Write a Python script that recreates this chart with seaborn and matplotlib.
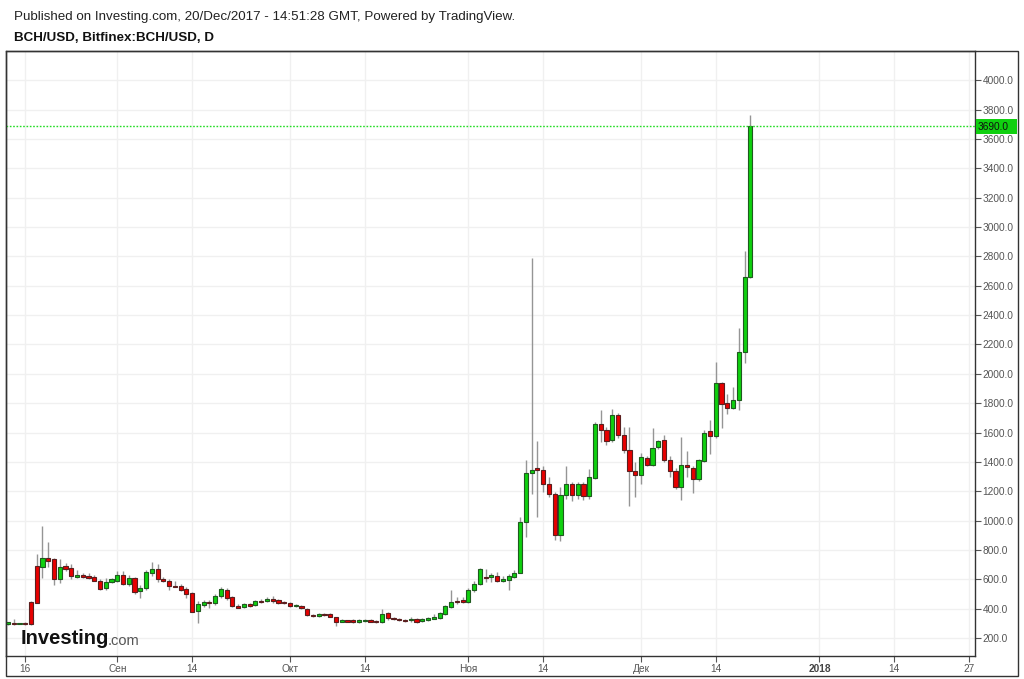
import matplotlib
matplotlib.use("Agg")
import matplotlib.pyplot as plt
import matplotlib.dates as mdates
import matplotlib.patches as mpatches
import numpy as np
import pandas as pd
import seaborn as sns

# ---------------- data ----------------
start_date = "2017-08-13"
opens = [292, 300, 298, 302, 446, 687, 681, 745, 738, 605, 687, 674, 617, 630, 624, 615, 588, 542, 581,
         588, 626, 567, 608, 517, 540, 644, 667, 603, 585, 556, 553, 532, 503, 385, 426, 446, 435, 485, 528,
         476, 417, 410, 430, 426, 453, 449, 467, 460, 446,
         439, 417, 419, 400, 359, 348, 366, 362, 344, 311, 321, 321, 311, 316, 321, 318, 309, 369, 339, 330,
         323, 319, 328, 316, 321, 330, 339, 362, 412, 453, 462,
         442, 526, 567, 617, 612, 624, 588, 596, 617, 646, 988, 1326, 1360, 1347, 1251, 1182, 904, 1177, 1251,
         1173, 1251, 1165, 1292, 1656, 1615, 1552, 1722, 1583, 1478, 1341,
         1312, 1425, 1382, 1502, 1547, 1415, 1341, 1227, 1380, 1360, 1285, 1408, 1612, 1575, 1939, 1801, 1770,
         1824, 2146, 2663]
highs = [312, 332, 305, 310, 450, 774, 965, 852, 747, 738, 710, 704, 665, 644, 640, 628, 601, 610, 610,
         658, 653, 630, 615, 560, 660, 719, 704, 615, 600, 590, 570, 548, 515, 453, 460, 458, 500, 549, 540,
         483, 430, 440, 435, 462, 468, 476, 487, 467, 455,
         446, 428, 426, 407, 366, 373, 373, 373, 346, 330, 323, 330, 330, 328, 326, 323, 396, 376, 344, 337,
         330, 344, 339, 339, 344, 360, 378, 426, 526, 476, 476,
         540, 590, 680, 667, 640, 650, 619, 635, 662, 1027, 1410, 2790, 1540, 1374, 1300, 1193, 1230, 1369,
         1265, 1265, 1265, 1352, 1671, 1756, 1640, 1763, 1730, 1636, 1636, 1400,
         1460, 1440, 1631, 1550, 1580, 1440, 1360, 1570, 1474, 1370, 1420, 1620, 1687, 2082, 1945, 1865, 1911,
         2310, 2834, 3761]
lows = [290, 288, 296, 285, 290, 435, 610, 681, 560, 574, 658, 601, 610, 610, 600, 585, 528, 530, 574,
        580, 560, 555, 499, 471, 530, 620, 580, 578, 526, 545, 520, 471, 375, 302, 410, 407, 425, 475, 462,
        410, 403, 405, 410, 418, 440, 442, 440, 432, 428,
        410, 412, 396, 348, 346, 346, 350, 340, 282, 306, 307, 305, 303, 312, 306, 303, 303, 321, 325, 318,
        312, 312, 303, 312, 316, 326, 332, 355, 405, 428, 435,
        435, 512, 560, 580, 580, 580, 580, 528, 610, 640, 890, 1182, 1022, 1193, 1160, 868, 860, 1150,
        1136, 1150, 1140, 1150, 1280, 1533, 1512, 1535, 1560, 1460, 1102, 1159,
        1246, 1370, 1375, 1490, 1400, 1300, 1215, 1141, 1300, 1186, 1270, 1400, 1451, 1560, 1633, 1729, 1760,
        1752, 2071, 2655]
closes = [308, 292, 302, 296, 294, 437, 745, 722, 605, 685, 670, 619, 630, 617, 610, 588, 537, 583, 601,
          628, 567, 608, 512, 540, 649, 667, 603, 585, 553, 550, 530, 499, 380, 430, 448, 439, 489, 535, 471,
          417, 407, 432, 417, 453, 446, 467, 453, 439, 435,
          417, 424, 403, 355, 350, 366, 355, 344, 311, 323, 311, 311, 323, 325, 311, 309, 362, 335, 328, 320,
          316, 328, 307, 328, 335, 346, 371, 417, 448, 442, 448,
          526, 567, 667, 608, 626, 585, 601, 619, 644, 993, 1326, 1347, 1344, 1251, 1182, 902, 1177, 1251,
          1173, 1251, 1167, 1295, 1656, 1615, 1543, 1722, 1583, 1478, 1335, 1312,
          1432, 1382, 1496, 1540, 1410, 1338, 1227, 1380, 1364, 1285, 1410, 1599, 1575, 1939, 1797, 1770, 1824,
          2146, 2663, 3690]
last_price = 3690.0

tick_dates = ["2017-08-16", "2017-09-01", "2017-09-14", "2017-10-01", "2017-10-14", "2017-11-01",
              "2017-11-14", "2017-12-01", "2017-12-14", "2018-01-01", "2018-01-14", "2018-01-27"]
tick_labels = ["16", "Сен", "14", "Окт", "14", "Ноя", "14", "Дек", "14", "2018", "14", "27"]
y_ticks = list(range(200, 4001, 200))

# ---------------- figure ----------------
sns.set_theme(style="white")
plt.rcParams["font.family"] = ["Liberation Sans", "DejaVu Sans"]

W, H = 1024, 679
fig = plt.figure(figsize=(W / 100, H / 100), dpi=100)
fig.patch.set_facecolor("white")
ax = fig.add_axes([6 / W, 1 - 656 / H, (975 - 6) / W, (656 - 51) / H])
ax.set_facecolor("white")

df = pd.DataFrame({
    "date": pd.date_range(start_date, periods=len(opens), freq="D"),
    "open": opens, "high": highs, "low": lows, "close": closes,
})
df["x"] = mdates.date2num(df["date"])
up = df["close"] >= df["open"]

# grid
for d in tick_dates:
    ax.axvline(mdates.date2num(pd.Timestamp(d)), color="#f0f0f0", lw=1, zorder=0)
for v in y_ticks:
    ax.axhline(v, color="#f0f0f0", lw=1, zorder=0)

# wicks
ax.vlines(df["x"], df["low"], df["high"], color="#959595", lw=1, zorder=2)
# bodies
bw = 0.72
body_bottom = np.minimum(df["open"], df["close"])
body_h = np.maximum(np.abs(df["close"] - df["open"]), 6)
ax.bar(df.loc[up, "x"], body_h[up], bottom=body_bottom[up], width=bw,
       color="#0fd00f", edgecolor="#1f5a1f", linewidth=0.8, zorder=3)
ax.bar(df.loc[~up, "x"], body_h[~up], bottom=body_bottom[~up], width=bw,
       color="#e80000", edgecolor="#5a1f1f", linewidth=0.8, zorder=3)

# last price line
ax.axhline(last_price, color="#22dd22", lw=1, ls=(0, (1.2, 1.2)), zorder=4)

# axes limits
x0 = mdates.date2num(pd.Timestamp("2017-12-01")) - (641 - 6) / 5.755
x1 = mdates.date2num(pd.Timestamp("2017-12-01")) + (975 - 641) / 5.755
ax.set_xlim(x0, x1)
ax.set_ylim(77, 4200)

# y axis on right
ax.yaxis.tick_right()
ax.set_yticks(y_ticks)
ax.set_yticklabels([f"{v:.1f}" for v in y_ticks])
ax.tick_params(axis="y", which="both", right=True, left=False, length=4, width=0.8,
               color="#555555", labelcolor="#555555", labelsize=7.3, pad=1.5)

# x axis
ax.set_xticks([mdates.date2num(pd.Timestamp(d)) for d in tick_dates])
ax.set_xticklabels(tick_labels)
ax.tick_params(axis="x", which="both", bottom=True, length=4, width=0.8,
               color="#555555", labelcolor="#555555", labelsize=7.3, pad=1.5)
for lab in ax.get_xticklabels():
    if lab.get_text() == "2018":
        lab.set_fontweight("bold")
        lab.set_color("#444444")

for side in ["top", "left", "right", "bottom"]:
    ax.spines[side].set_visible(True)
    ax.spines[side].set_color("#333333")
    ax.spines[side].set_linewidth(1)

# outer frame
fig.patches.append(mpatches.Rectangle((6 / W, 1 - 676 / H), (1018 - 6) / W, (676 - 51) / H,
                                      transform=fig.transFigure, fill=False,
                                      edgecolor="#333333", linewidth=1))

# last price label
fig.patches.append(mpatches.Rectangle((976 / W, 1 - 133.5 / H), (1017 - 976) / W, 14 / H,
                                      transform=fig.transFigure, facecolor="#10d010",
                                      edgecolor="none", zorder=5))
fig.text(978 / W, 1 - 126.5 / H, f"{last_price:.1f}", fontsize=7.3, color="#111111",
         va="center", ha="left", zorder=6)

# header
fig.text(14 / W, 1 - 17 / H,
         "Published on Investing.com, 20/Dec/2017 - 14:51:28 GMT, Powered by TradingView.",
         fontsize=9.6, color="#222222", va="center", ha="left")
fig.text(14 / W, 1 - 38 / H, "BCH/USD, Bitfinex:BCH/USD, D",
         fontsize=9.6, fontweight="bold", color="#111111", va="center", ha="left")

# watermark logo
fig.text(21 / W, 1 - 639 / H, "Investing", fontsize=14.5, fontweight="bold",
         color="#111111", va="center", ha="left")
fig.text(108 / W, 1 - 641 / H, ".com", fontsize=10.5, color="#555555",
         va="center", ha="left")

fig.savefig("out.png", dpi=100, facecolor="white")
